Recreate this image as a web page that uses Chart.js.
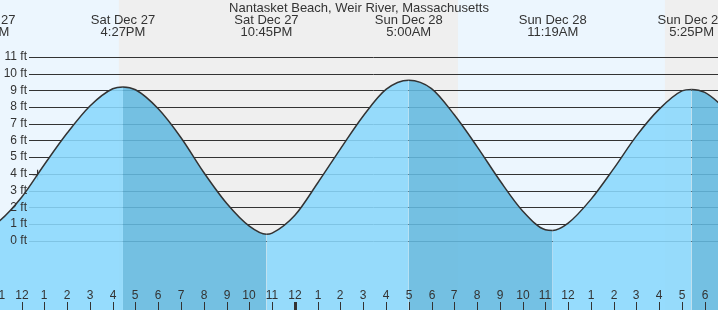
<!DOCTYPE html>
<html>
<head>
<meta charset="utf-8">
<script src="https://cdn.jsdelivr.net/npm/chart.js@4.4.0/dist/chart.umd.min.js"></script>
<style>
    body { margin: 0; background: #fff; }
    #wrap { width: 718px; height: 310px; }
</style>
</head>
<body>
<div id="wrap"><canvas id="tideChart" width="718" height="310"></canvas></div>
<script>
// Tide readings: hours after noon Sat Dec 27, height in ft
const tideHours = [-1.68, -1, 0, 1, 2, 3, 4, 4.45, 5, 6, 7, 8, 9, 10, 10.75, 11, 12, 13, 14, 15,
    16, 17, 18, 19, 20, 21, 22, 23, 23.32, 24, 25, 26, 27, 28, 29, 29.42, 30, 31];
const tideFeet = [0.6, 1.15, 2.6, 4.56, 6.44, 8.06, 9.09, 9.2, 9.03, 7.89, 6.16, 4.08, 2.24, 0.87, 0.38, 0.45, 1.52, 3.45, 5.49, 7.46,
    9.05, 9.6, 9.1, 7.53, 5.63, 3.6, 1.78, 0.65, 0.61, 1.05, 2.47, 4.31, 6.27, 7.87, 8.96, 9.05, 8.87, 7.8];

// High / low labels along the top
const eventHours = [-1.68, 4.45, 10.75, 17.0, 23.32, 29.42];
const eventDays = ['Sat Dec 27', 'Sat Dec 27', 'Sat Dec 27', 'Sun Dec 28', 'Sun Dec 28', 'Sun Dec 28'];
const eventTimes = ['10:19AM', '4:27PM', '10:45PM', '5:00AM', '11:19AM', '5:25PM'];

// Sunset / sunrise (hours after noon Dec 27)
const sunsetHours = [4.27, 28.25];
const sunriseHours = [19.16];

// Current time marker
const nowHour = 0.70;
const nowFeet = 3.95;

const feetTicks = [0, 1, 2, 3, 4, 5, 6, 7, 8, 9, 10, 11];
const hourTicks = [];
for (let h = -1; h <= 30; h++) hourTicks.push(h);

const title = 'Nantasket Beach, Weir River, Massachusetts';

const floodFill = 'rgba(138, 216, 253, 0.88)';
const ebbFill = 'rgba(99, 185, 224, 0.88)';
const dayColor = '#ECF6FE';
const nightColor = '#EFEFEF';
const inkColor = '#333333';
const fontFamily = '"Liberation Sans", Arial, sans-serif';

function hourLabel(h) {
    return String(((h + 11) % 12 + 12) % 12 + 1);
}

const backgroundPlugin = {
    id: 'dayNight',
    beforeDatasetsDraw(chart) {
        const { ctx, chartArea, scales } = chart;
        const x = scales.x;
        ctx.save();
        ctx.fillStyle = dayColor;
        ctx.fillRect(chartArea.left, chartArea.top, chartArea.width, chartArea.height);
        ctx.fillStyle = nightColor;
        sunsetHours.forEach((s, i) => {
            const e = i < sunriseHours.length ? sunriseHours[i] : x.max;
            const x0 = x.getPixelForValue(s);
            const x1 = x.getPixelForValue(e);
            ctx.fillRect(x0, chartArea.top, x1 - x0, chartArea.height);
        });

        // grid lines, drawn under the water
        const y = scales.y;
        ctx.strokeStyle = inkColor;
        ctx.lineWidth = 1;
        feetTicks.forEach(v => {
            const py = Math.round(y.getPixelForValue(v)) + 0.5;
            ctx.beginPath();
            ctx.moveTo(29, py);
            ctx.lineTo(chartArea.right, py);
            ctx.stroke();
        });
        ctx.restore();
    }
};

const labelPlugin = {
    id: 'tideLabels',
    afterDraw(chart) {
        const { ctx, chartArea, scales } = chart;
        const x = scales.x;
        const y = scales.y;
        ctx.save();
        ctx.fillStyle = inkColor;
        ctx.textBaseline = 'middle';

        // y axis labels
        ctx.font = '12px ' + fontFamily;
        ctx.textAlign = 'right';
        feetTicks.forEach(v => {
            ctx.fillText(v + ' ft', 27, y.getPixelForValue(v));
        });

        // hour ticks and labels
        ctx.textAlign = 'center';
        hourTicks.forEach(h => {
            const px = Math.round(x.getPixelForValue(h));
            const w = h === 12 ? 3 : 1;
            ctx.fillRect(px - Math.floor(w / 2), 302, w, 8);
            ctx.fillText(hourLabel(h), px, 296);
        });

        // title and high / low labels
        ctx.font = '13px ' + fontFamily;
        ctx.fillText(title, (chartArea.left + chartArea.right) / 2, 8);
        eventHours.forEach((h, i) => {
            const px = x.getPixelForValue(h);
            ctx.fillText(eventDays[i], px, 20);
            ctx.fillText(eventTimes[i], px, 32);
        });
        ctx.restore();
    }
};

const tidePoints = tideHours.map((h, i) => ({ x: h, y: tideFeet[i] }));

new Chart(document.getElementById('tideChart').getContext('2d'), {
    type: 'line',
    data: {
        datasets: [{
            data: tidePoints,
            borderColor: inkColor,
            borderWidth: 1.5,
            backgroundColor: floodFill,
            fill: 'start',
            pointRadius: 0,
            cubicInterpolationMode: 'monotone',
            segment: {
                backgroundColor: ctx => ctx.p1.parsed.y < ctx.p0.parsed.y ? ebbFill : floodFill
            }
        }, {
            data: [{ x: nowHour, y: nowFeet }],
            showLine: false,
            fill: false,
            pointStyle: 'cross',
            pointRadius: 5,
            borderColor: inkColor,
            borderWidth: 1.2
        }]
    },
    options: {
        responsive: false,
        animation: false,
        layout: { padding: 0, autoPadding: false },
        plugins: {
            legend: { display: false },
            tooltip: { enabled: false }
        },
        scales: {
            x: { type: 'linear', min: -0.95, max: 30.58, display: false },
            y: { min: -4.15, max: 14.4, display: false }
        }
    },
    plugins: [backgroundPlugin, labelPlugin]
});
</script>
</body>
</html>
